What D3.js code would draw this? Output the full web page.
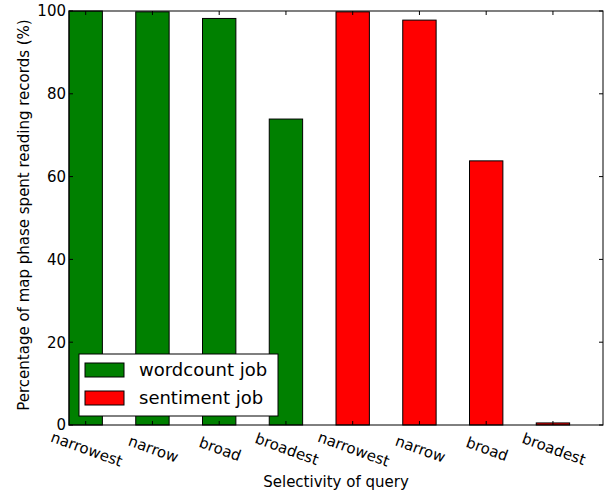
<!DOCTYPE html>
<html>
<head>
<meta charset="utf-8">
<script src="https://cdnjs.cloudflare.com/ajax/libs/d3/7.8.5/d3.min.js"></script>
<style>
  body { margin: 0; background: #fff; }
  svg { display: block; font-family: 'DejaVu Sans', sans-serif; }
</style>
</head>
<body>
<svg id="chart" width="605" height="494"></svg>
<script>
var queries = ['narrowest', 'narrow', 'broad', 'broadest'];
var wordcount = [100, 99.8, 98.2, 73.9];
var sentiment = [99.8, 97.8, 63.8, 0.5];
var seriesNames = ['wordcount job', 'sentiment job'];
var seriesColors = ['#008000', '#ff0000'];
var yTicks = [0, 20, 40, 60, 80, 100];

// one row per bar, wordcount first then sentiment
var rows = [];
[wordcount, sentiment].forEach(function(vals, s) {
  vals.forEach(function(v, i) {
    rows.push({ label: queries[i], value: v, series: s });
  });
});

var svg = d3.select('#chart');
// note: "top" is taken by window.top, so prefix these
var plotL = 69, plotR = 603, plotT = 11, plotB = 425;

var x = d3.scaleBand()
  .domain(d3.range(rows.length))
  .range([plotL, plotR])
  .padding(0);
var barW = x.bandwidth() / 2;

var y = d3.scaleLinear()
  .domain([0, 100])
  .range([plotB, plotT]);

// bars
svg.append('g')
  .selectAll('rect')
  .data(rows)
  .enter().append('rect')
  .attr('x', function(d, i) { return x(i); })
  .attr('y', function(d) { return y(d.value); })
  .attr('width', barW)
  .attr('height', function(d) { return y(0) - y(d.value); })
  .attr('fill', function(d) { return seriesColors[d.series]; })
  .attr('stroke', '#000')
  .attr('stroke-width', 1);

// frame
svg.append('rect')
  .attr('x', plotL).attr('y', plotT)
  .attr('width', plotR - plotL).attr('height', plotB - plotT)
  .attr('fill', 'none').attr('stroke', '#000').attr('stroke-width', 1);

// inward ticks on all four sides
var ticks = svg.append('g').attr('stroke', '#000').attr('stroke-width', 1);
rows.forEach(function(d, i) {
  var cx = x(i) + barW / 2;
  ticks.append('line').attr('x1', cx).attr('x2', cx).attr('y1', plotB).attr('y2', plotB - 4);
  ticks.append('line').attr('x1', cx).attr('x2', cx).attr('y1', plotT).attr('y2', plotT + 4);
});
yTicks.forEach(function(t) {
  ticks.append('line').attr('x1', plotL).attr('x2', plotL + 4).attr('y1', y(t)).attr('y2', y(t));
  ticks.append('line').attr('x1', plotR).attr('x2', plotR - 4).attr('y1', y(t)).attr('y2', y(t));
});

// y tick labels
svg.append('g')
  .selectAll('text')
  .data(yTicks)
  .enter().append('text')
  .attr('x', plotL - 3)
  .attr('y', function(d) { return y(d); })
  .attr('dy', '0.36em')
  .attr('text-anchor', 'end')
  .attr('font-size', 15)
  .text(function(d) { return d; });

// x tick labels, rotated
svg.append('g')
  .selectAll('text')
  .data(rows)
  .enter().append('text')
  .attr('transform', function(d, i) {
    return 'translate(' + (x(i) + barW / 2 + 1) + ',' + 449 + ') rotate(20)';
  })
  .attr('text-anchor', 'middle')
  .attr('dy', '0.35em')
  .attr('font-size', 15)
  .text(function(d) { return d.label; });

// axis titles
svg.append('text')
  .attr('x', (plotL + plotR) / 2)
  .attr('y', 487)
  .attr('text-anchor', 'middle')
  .attr('font-size', 15)
  .text('Selectivity of query');

svg.append('text')
  .attr('transform', 'translate(29,215) rotate(-90)')
  .attr('text-anchor', 'middle')
  .attr('font-size', 15)
  .text('Percentage of map phase spent reading records (%)');

// legend
var legend = svg.append('g');
legend.append('rect')
  .attr('x', 79).attr('y', 354)
  .attr('width', 199).attr('height', 62)
  .attr('fill', '#fff').attr('stroke', '#000').attr('stroke-width', 1);

var item = legend.selectAll('g.item')
  .data(seriesNames)
  .enter().append('g')
  .attr('class', 'item')
  .attr('transform', function(d, i) { return 'translate(85,' + (363 + i * 28) + ')'; });

item.append('rect')
  .attr('width', 39).attr('height', 14)
  .attr('fill', function(d, i) { return seriesColors[i]; })
  .attr('stroke', '#000').attr('stroke-width', 1);

item.append('text')
  .attr('x', 54)
  .attr('y', 7)
  .attr('dy', '0.35em')
  .attr('font-size', 18)
  .text(function(d) { return d; });
</script>
</body>
</html>
